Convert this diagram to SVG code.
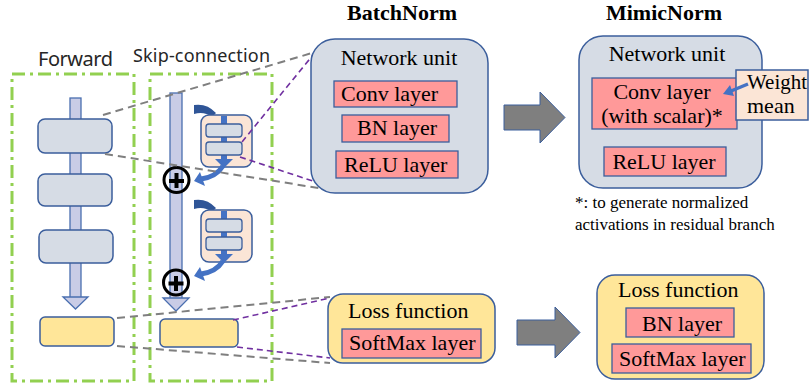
<svg xmlns="http://www.w3.org/2000/svg" width="809" height="388" viewBox="0 0 809 388">
<defs>
<style>
.sans{font-family:"Microsoft YaHei","Noto Sans","Liberation Sans",sans-serif;fill:#262626}
.serif{font-family:"Liberation Serif","Times New Roman",serif;fill:#000}
.t22{font-size:22px}
.t17{font-size:17px}
.green{fill:none;stroke:#92D050;stroke-width:3;stroke-dasharray:13 5 3 5}
.unit{fill:#D6DCE5;stroke:#3B5E9C;stroke-width:1.5}
.small{fill:#D6DCE5;stroke:#3B5E9C;stroke-width:1.3}
.pink{fill:#FF9999;stroke:#3B5E9C;stroke-width:1.3}
.yellow{fill:#FFE699;stroke:#3B5E9C;stroke-width:1.5}
.peach{fill:#FBE5D6;stroke:#3B5E9C;stroke-width:1.5}
.bar{fill:#C9CCE6;stroke:#4A6FB0;stroke-width:1.3}
.big{fill:#7F7F7F;stroke:#3B5E9C;stroke-width:1}
.gray{fill:none;stroke:#7F7F7F;stroke-width:2;stroke-dasharray:8 5}
.purple{fill:none;stroke:#7030A0;stroke-width:1.6;stroke-dasharray:6 4}
.blue{fill:#4472C4}
.dblue{fill:#2F5597}
.plus{fill:none;stroke:#000;stroke-width:3}
</style>
<g id="resblock">
<path class="dblue" d="M194,105 Q207,103 216,113 L212,117 Q204,111 194,114 Z"/>
<rect class="peach" x="201" y="115" width="51" height="52" rx="8"/>
<rect class="blue" x="221" y="116" width="6" height="44"/>
<polygon class="blue" points="215,159 233,159 224,168"/>
<rect class="small" x="206" y="124" width="36" height="13" rx="3"/>
<rect class="small" x="206" y="142" width="36" height="13" rx="3"/>
<path d="M223,166 Q216,177 201,179" fill="none" stroke="#4472C4" stroke-width="5"/>
<polygon class="blue" points="194,181 200,172 205,186"/>
</g>
</defs>
<rect width="809" height="388" fill="#fff"/>

<g id="forward-panel">
<rect class="green" x="12" y="74" width="122" height="307"/>
<text class="sans" x="38" y="66" font-size="20" textLength="75">Forward</text>
<rect class="bar" x="70" y="98" width="11" height="200"/>
<polygon class="bar" points="63,297 88,297 75.5,309"/>
<rect class="unit" x="38" y="119" width="74" height="34" rx="7"/>
<rect class="unit" x="38" y="174" width="74" height="32" rx="7"/>
<rect class="unit" x="39" y="230" width="74" height="33" rx="7"/>
<rect class="yellow" x="40" y="317" width="74" height="29" rx="5"/>
</g>

<g id="skip-panel">
<rect class="green" x="150" y="74" width="122" height="307"/>
<text class="sans" x="133" y="62" font-size="18" textLength="137">Skip-connection</text>
<rect class="bar" x="170" y="93" width="12" height="206"/>
<polygon class="bar" points="163,298 189,298 176,311"/>
<use href="#resblock"/>
<use href="#resblock" transform="translate(0,95)"/>
<circle class="plus" cx="176.5" cy="180" r="12.5"/>
<path d="M169,181 H184 M176.5,173 V188" stroke="#000" stroke-width="4"/>
<circle class="plus" cx="176" cy="282.5" r="12.5"/>
<path d="M168.5,283.5 H183.5 M176,276 V291" stroke="#000" stroke-width="4"/>
<rect class="yellow" x="160" y="319" width="78" height="28" rx="5"/>
</g>

<g id="connectors">
<line class="gray" x1="103" y1="115" x2="312" y2="53"/>
<line class="gray" x1="105" y1="154" x2="325" y2="189"/>
<line class="purple" x1="242" y1="142" x2="313" y2="55"/>
<line class="purple" x1="240" y1="157" x2="322" y2="184"/>
<line class="gray" x1="117" y1="318" x2="330" y2="297"/>
<line class="purple" x1="233" y1="320" x2="330" y2="298"/>
<line class="gray" x1="117" y1="346" x2="330" y2="363"/>
<line class="purple" x1="237" y1="347" x2="330" y2="358"/>
</g>

<g id="batchnorm-unit">
<text class="serif t22" x="402" y="20" text-anchor="middle" font-weight="bold">BatchNorm</text>
<rect class="unit" x="311" y="39" width="177" height="154" rx="24"/>
<text class="serif t22" x="399" y="65" text-anchor="middle">Network unit</text>
<rect class="pink" x="334" y="81" width="123" height="26"/>
<text class="serif t22" x="341" y="101">Conv layer</text>
<rect class="pink" x="342" y="115" width="107" height="27"/>
<text class="serif t22" x="357" y="135">BN layer</text>
<rect class="pink" x="336" y="151" width="122" height="27"/>
<text class="serif t22" x="344" y="172">ReLU layer</text>
</g>

<g id="arrow-top">
<polygon class="big" points="504,105 540,105 540,92 565,117.5 540,143 540,130 504,130"/>
</g>

<g id="mimicnorm-unit">
<text class="serif t22" x="664" y="20" text-anchor="middle" font-weight="bold">MimicNorm</text>
<rect class="unit" x="579" y="36" width="183" height="152" rx="24"/>
<text class="serif t22" x="667" y="61" text-anchor="middle">Network unit</text>
<rect class="pink" x="592" y="78" width="145" height="51"/>
<text class="serif t22" x="662" y="99" text-anchor="middle">Conv layer</text>
<text class="serif t22" x="662" y="123" text-anchor="middle">(with scalar)*</text>
<rect class="pink" x="604" y="147" width="122" height="29"/>
<text class="serif t22" x="664" y="169" text-anchor="middle">ReLU layer</text>
<text class="serif t17" x="575" y="208">*: to generate normalized</text>
<text class="serif t17" x="575" y="230">activations in residual branch</text>
</g>

<g id="weight-mean">
<rect class="peach" x="736" y="70" width="72" height="50"/>
<text class="serif t22" x="747" y="89" textLength="60" lengthAdjust="spacingAndGlyphs">Weight</text>
<text class="serif t22" x="747" y="113">mean</text>
<line x1="748" y1="84" x2="731" y2="91" stroke="#4472C4" stroke-width="3.5"/>
<polygon class="blue" points="723,94 730,85 734,96"/>
</g>

<g id="loss-bn">
<rect class="yellow" x="328" y="294" width="167" height="69" rx="15"/>
<text class="serif t22" x="348" y="318">Loss function</text>
<rect class="pink" x="342" y="329" width="139" height="29"/>
<text class="serif t22" x="349" y="350">SoftMax layer</text>
</g>

<g id="arrow-bottom">
<polygon class="big" points="517,320 555,320 555,307 580,332.5 555,358 555,345 517,345"/>
</g>

<g id="loss-mimic">
<rect class="yellow" x="597" y="275" width="167" height="104" rx="18"/>
<text class="serif t22" x="618" y="297">Loss function</text>
<rect class="pink" x="626" y="308" width="108" height="29"/>
<text class="serif t22" x="642" y="331">BN layer</text>
<rect class="pink" x="612" y="344" width="139" height="29"/>
<text class="serif t22" x="619" y="366">SoftMax layer</text>
</g>
</svg>
